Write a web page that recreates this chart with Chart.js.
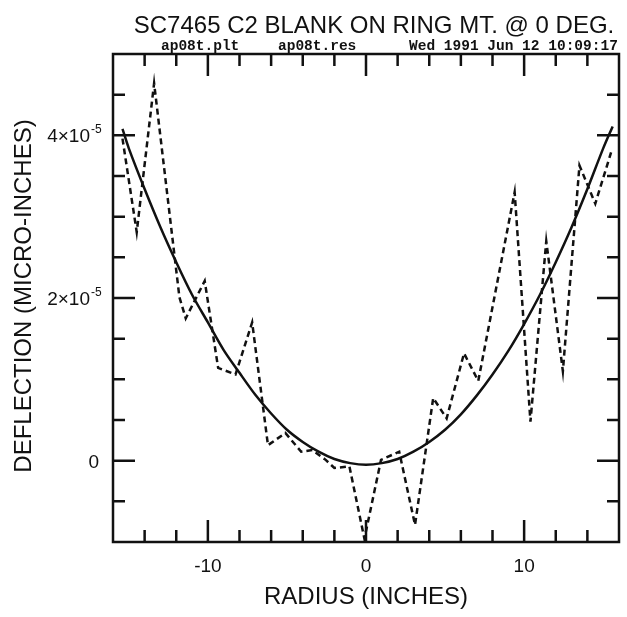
<!DOCTYPE html>
<html>
<head>
<meta charset="utf-8">
<script src="https://cdn.jsdelivr.net/npm/chart.js@4.4.0/dist/chart.umd.min.js"></script>
<style>
  html, body { margin: 0; padding: 0; background: #fff; }
  canvas { display: block; }
</style>
</head>
<body>
<canvas id="deflectionChart" width="627" height="617"></canvas>
<script>
// measured deflection (dashed), units of 10^-5
const radiusMeasured = [-15.4, -14.5, -13.4, -11.8, -11.4, -10.2, -9.35, -8.25, -7.2, -6.2, -5.1, -4.1, -3.4, -2.55, -2.0, -1.05, -0.1, 0.95, 2.1, 3.1, 4.25, 5.1, 6.2, 7.1, 9.4, 10.4, 11.4, 12.45, 13.5, 14.5, 15.5];
const deflectionMeasured = [3.96, 2.81, 4.64, 2.01, 1.75, 2.21, 1.14, 1.06, 1.70, 0.19, 0.34, 0.11, 0.13, 0.01, -0.09, -0.07, -0.96, 0.01, 0.11, -0.79, 0.77, 0.52, 1.32, 0.98, 3.30, 0.48, 2.70, 1.10, 3.63, 3.16, 3.79];

// fitted curve (solid), units of 10^-5
const radiusFit = [-15.4, -15, -14, -13, -12, -11, -10, -9, -8, -7, -6, -5, -4, -3, -2, -1, 0, 1, 2, 3, 4, 5, 6, 7, 8, 9, 10, 11, 12, 13, 14, 15, 15.6];
const deflectionFit = [4.08, 3.84, 3.34, 2.87, 2.44, 2.04, 1.70, 1.36, 1.08, 0.81, 0.58, 0.38, 0.23, 0.11, 0.02, -0.03, -0.05, -0.03, 0.02, 0.11, 0.23, 0.38, 0.57, 0.80, 1.06, 1.35, 1.68, 2.04, 2.44, 2.87, 3.34, 3.84, 4.11];

const xTickValues = [-14, -12, -10, -8, -6, -4, -2, 0, 2, 4, 6, 8, 10, 12, 14];
const xLabelValues = [-10, 0, 10];
const yTickValues = [-0.5, 0, 0.5, 1, 1.5, 2, 2.5, 3, 3.5, 4, 4.5];
const yLabelValues = [0, 2, 4];

const chartTitle = 'SC7465 C2 BLANK ON RING MT. @ 0 DEG.';
const fileLabels = ['ap08t.plt', 'ap08t.res', 'Wed 1991 Jun 12 10:09:17'];
const xTitle = 'RADIUS (INCHES)';
const yTitle = 'DEFLECTION (MICRO-INCHES)';

const SANS = '"Liberation Sans", Arial, sans-serif';
const MONO = '"Liberation Mono", "Courier New", monospace';

function toPoints(xs, ys) {
    return xs.map(function(x, i) { return { x: x, y: ys[i] }; });
}

// frame, inward ticks and all the text of the old plotter page
const plotterFrame = {
    id: 'plotterFrame',
    afterDraw: function(chart) {
        const ctx = chart.ctx;
        const area = chart.chartArea;
        const xs = chart.scales.x;
        const ys = chart.scales.y;
        ctx.save();
        ctx.strokeStyle = '#111';
        ctx.fillStyle = '#111';
        ctx.lineWidth = 2.5;
        ctx.strokeRect(area.left, area.top, area.right - area.left, area.bottom - area.top);

        // x ticks, bottom and top
        xTickValues.forEach(function(v) {
            const px = xs.getPixelForValue(v);
            const len = xLabelValues.indexOf(v) >= 0 ? 22 : 12;
            ctx.beginPath();
            ctx.moveTo(px, area.bottom); ctx.lineTo(px, area.bottom - len);
            ctx.moveTo(px, area.top); ctx.lineTo(px, area.top + len);
            ctx.stroke();
        });
        // y ticks, left and right
        yTickValues.forEach(function(v) {
            const py = ys.getPixelForValue(v);
            const len = yLabelValues.indexOf(v) >= 0 ? 22 : 12;
            ctx.beginPath();
            ctx.moveTo(area.left, py); ctx.lineTo(area.left + len, py);
            ctx.moveTo(area.right, py); ctx.lineTo(area.right - len, py);
            ctx.stroke();
        });

        // x tick labels
        ctx.font = '19px ' + SANS;
        ctx.textAlign = 'center';
        ctx.textBaseline = 'alphabetic';
        xLabelValues.forEach(function(v) {
            ctx.fillText(String(v), xs.getPixelForValue(v), area.bottom + 30);
        });

        // y tick labels, n x 10^-5
        yLabelValues.forEach(function(v) {
            const py = ys.getPixelForValue(v);
            if (v === 0) {
                ctx.font = '19px ' + SANS;
                ctx.textAlign = 'right';
                ctx.fillText('0', area.left - 14, py + 7);
            } else {
                ctx.font = '19px ' + SANS;
                ctx.textAlign = 'right';
                ctx.fillText(v + '\u00d710', area.left - 23, py + 7);
                ctx.font = '12px ' + SANS;
                ctx.textAlign = 'left';
                ctx.fillText('-5', area.left - 22, py - 2);
            }
        });

        // axis titles
        ctx.font = '24px ' + SANS;
        ctx.textAlign = 'center';
        ctx.fillText(xTitle, (area.left + area.right) / 2, 604);
        ctx.save();
        ctx.translate(31, 296);
        ctx.rotate(-Math.PI / 2);
        ctx.fillText(yTitle, 0, 0);
        ctx.restore();

        // header
        ctx.font = '24px ' + SANS;
        ctx.fillText(chartTitle, 374, 33);
        ctx.font = 'bold 14.5px ' + MONO;
        ctx.textAlign = 'left';
        ctx.fillText(fileLabels[0], 161, 50);
        ctx.fillText(fileLabels[1], 278, 50);
        ctx.fillText(fileLabels[2], 409, 50);
        ctx.restore();
    }
};

new Chart(document.getElementById('deflectionChart'), {
    type: 'line',
    data: {
        datasets: [{
            label: 'measured',
            data: toPoints(radiusMeasured, deflectionMeasured),
            borderColor: '#111',
            borderWidth: 2.5,
            borderDash: [6, 4],
            pointRadius: 0,
            tension: 0,
            fill: false
        }, {
            label: 'fit',
            data: toPoints(radiusFit, deflectionFit),
            borderColor: '#111',
            borderWidth: 2.5,
            pointRadius: 0,
            tension: 0.3,
            fill: false
        }]
    },
    options: {
        responsive: false,
        devicePixelRatio: 1,
        animation: false,
        layout: { padding: { left: 113, right: 8, top: 54, bottom: 75 } },
        plugins: {
            legend: { display: false },
            title: { display: false },
            tooltip: { enabled: false }
        },
        scales: {
            x: { type: 'linear', min: -16, max: 16, display: false },
            y: { type: 'linear', min: -1, max: 5, display: false }
        }
    },
    plugins: [plotterFrame]
});
</script>
</body>
</html>
